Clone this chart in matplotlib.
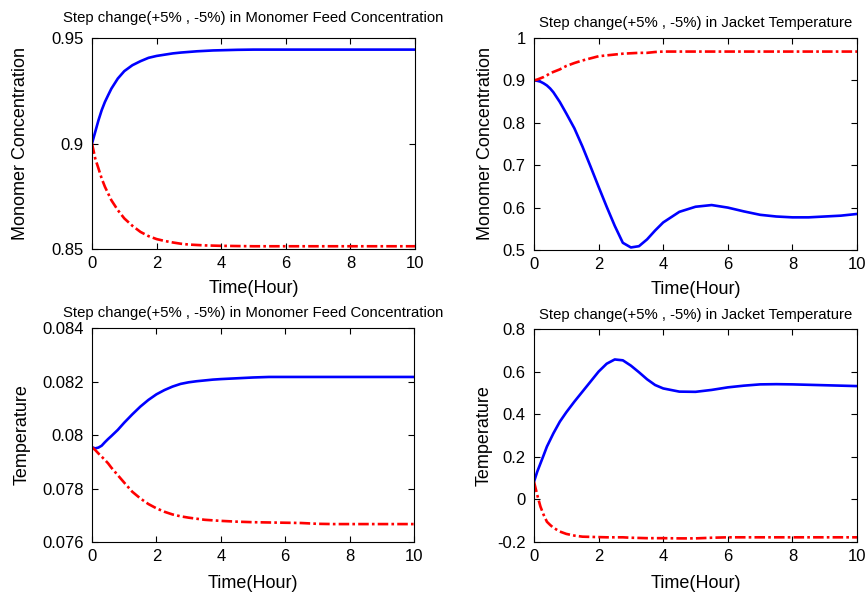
import numpy as np
import matplotlib
matplotlib.use("Agg")
import matplotlib.pyplot as plt

plt.rcParams['font.family'] = ['Liberation Sans', 'DejaVu Sans']

t = [0, 0.1, 0.2, 0.3, 0.4, 0.5, 0.6, 0.8, 1, 1.25, 1.5, 1.75, 2, 2.25, 2.5, 2.75, 3, 3.25, 3.5, 3.75, 4,
     4.5, 5, 5.5, 6, 6.5, 7, 7.5, 8, 8.5, 9, 9.5, 10]

# top-left: monomer concentration, feed concentration step
cm_feed_up = [0.9, 0.9055, 0.911, 0.9158, 0.9197, 0.9229, 0.926, 0.9308, 0.9343, 0.9371, 0.939, 0.9406, 0.9415,
              0.9421, 0.9427, 0.9431, 0.9434, 0.9437, 0.9439, 0.9441, 0.9442, 0.9444,
              0.9445, 0.9445, 0.9445, 0.9445, 0.9445, 0.9445, 0.9445, 0.9445, 0.9445, 0.9445, 0.9445]
cm_feed_dn = [0.9, 0.8929, 0.8882, 0.8834, 0.8795, 0.8763, 0.8731, 0.8684, 0.8645, 0.861, 0.8581, 0.8561, 0.8547,
              0.8538, 0.8531, 0.8525, 0.8521, 0.8519, 0.8517, 0.8516, 0.8515, 0.8514,
              0.8513, 0.8513, 0.8513, 0.8513, 0.8513, 0.8513, 0.8513, 0.8513, 0.8513, 0.8513, 0.8513]

# top-right: monomer concentration, jacket temperature step
cm_jack_up = [0.9, 0.899, 0.897, 0.893, 0.888, 0.881, 0.872, 0.849, 0.822, 0.787, 0.744, 0.697, 0.649,
              0.602, 0.557, 0.517, 0.506, 0.509, 0.525, 0.546, 0.565,
              0.59, 0.602, 0.606, 0.6, 0.591, 0.583, 0.579, 0.577, 0.577, 0.579, 0.581, 0.585]
cm_jack_dn = [0.9, 0.902, 0.905, 0.908, 0.912, 0.917, 0.92, 0.926, 0.934, 0.941, 0.947, 0.952, 0.957,
              0.959, 0.961, 0.963, 0.964, 0.965, 0.965, 0.967, 0.968,
              0.968, 0.968, 0.968, 0.968, 0.968, 0.968, 0.968, 0.968, 0.968, 0.968, 0.968, 0.968]

# bottom-left: temperature, feed concentration step
temp_feed_up = [0.07954, 0.0795, 0.07953, 0.0796, 0.07973, 0.07985, 0.07996, 0.08019, 0.08046, 0.08077, 0.08106,
                0.08131, 0.08152, 0.08168, 0.08181, 0.08191, 0.08197, 0.08201, 0.08204, 0.08207, 0.08209,
                0.08212, 0.08215, 0.08217, 0.08217, 0.08217, 0.08217, 0.08217, 0.08217, 0.08217, 0.08217,
                0.08217, 0.08217]
temp_feed_dn = [0.07954, 0.07944, 0.07931, 0.07919, 0.07907, 0.07894, 0.07878, 0.0785, 0.07822, 0.07788, 0.07763,
                0.07742, 0.07726, 0.07713, 0.07703, 0.07696, 0.07691, 0.07687, 0.07683, 0.07681, 0.07679,
                0.07676, 0.07674, 0.07673, 0.07672, 0.07671, 0.07668, 0.07667, 0.07667, 0.07667, 0.07667,
                0.07667, 0.07667]

# bottom-right: temperature, jacket temperature step
temp_jack_up = [0.083, 0.13, 0.169, 0.208, 0.248, 0.279, 0.31, 0.365, 0.409, 0.459, 0.506, 0.553, 0.6,
                0.637, 0.657, 0.653, 0.628, 0.597, 0.564, 0.537, 0.521,
                0.506, 0.505, 0.514, 0.526, 0.534, 0.54, 0.541, 0.54, 0.538, 0.536, 0.534, 0.532]
temp_jack_dn = [0.083, 0.021, -0.034, -0.073, -0.105, -0.12, -0.133, -0.151, -0.162, -0.17, -0.175, -0.176, -0.177,
                -0.178, -0.178, -0.178, -0.18, -0.181, -0.182, -0.182, -0.182,
                -0.183, -0.183, -0.18, -0.178, -0.178, -0.178, -0.178, -0.178, -0.178, -0.178, -0.178, -0.178]

titles = ["Step change(+5% , -5%) in Monomer Feed Concentration",
          "Step change(+5% , -5%) in Jacket Temperature"]

fig = plt.figure(figsize=(8.66, 5.94), dpi=100)
W, H = 866, 594
boxes = [(92, 38, 415, 249), (534, 38, 857, 250), (92, 328, 414, 542), (534, 329, 857, 542)]
axes = [fig.add_axes([l / W, 1 - b / H, (r - l) / W, (b - tp) / H]) for (l, tp, r, b) in boxes]

panels = [
    (cm_feed_up, cm_feed_dn, titles[0], "Monomer Concentration", (0.85, 0.95), [0.85, 0.9, 0.95], ["0.85", "0.9", "0.95"]),
    (cm_jack_up, cm_jack_dn, titles[1], "Monomer Concentration", (0.5, 1.0), [0.5, 0.6, 0.7, 0.8, 0.9, 1.0],
     ["0.5", "0.6", "0.7", "0.8", "0.9", "1"]),
    (temp_feed_up, temp_feed_dn, titles[0], "Temperature", (0.076, 0.084), [0.076, 0.078, 0.08, 0.082, 0.084],
     ["0.076", "0.078", "0.08", "0.082", "0.084"]),
    (temp_jack_up, temp_jack_dn, titles[1], "Temperature", (-0.2, 0.8), [-0.2, 0, 0.2, 0.4, 0.6, 0.8],
     ["-0.2", "0", "0.2", "0.4", "0.6", "0.8"]),
]
# label / title placement (axes fractions)
ylab_x = [-0.195, -0.124, -0.19, -0.127]
xlab_y = [-0.147, -0.147, -0.154, -0.154]
title_y = [1.097, 1.071, 1.07, 1.066]

for i, (ax, (up, dn, title, ylab, ylim, yt, ytl)) in enumerate(zip(axes, panels)):
    ax.plot(t, up, color="#0000ff", lw=1.9)
    ax.plot(t, dn, color="#ff0000", lw=1.9, linestyle=(0, (4, 1.2, 1, 1.2)))
    ax.set_xlim(0, 10)
    ax.set_ylim(*ylim)
    ax.set_xticks([0, 2, 4, 6, 8, 10])
    ax.set_yticks(yt)
    ax.set_yticklabels(ytl)
    ax.tick_params(direction="in", top=True, right=True, labelsize=12, length=4)
    ax.tick_params(axis="x", pad=5)
    ax.tick_params(axis="y", pad=6)
    ax.text(0.5, title_y[i], title, transform=ax.transAxes, ha="center", va="center", fontsize=10.7)
    ax.set_xlabel("Time(Hour)", fontsize=13)
    ax.set_ylabel(ylab, fontsize=13)
    ax.xaxis.set_label_coords(0.5, xlab_y[i])
    ax.yaxis.set_label_coords(ylab_x[i], 0.5)
    for s in ax.spines.values():
        s.set_linewidth(0.8)

fig.savefig("out.png", dpi=100)
